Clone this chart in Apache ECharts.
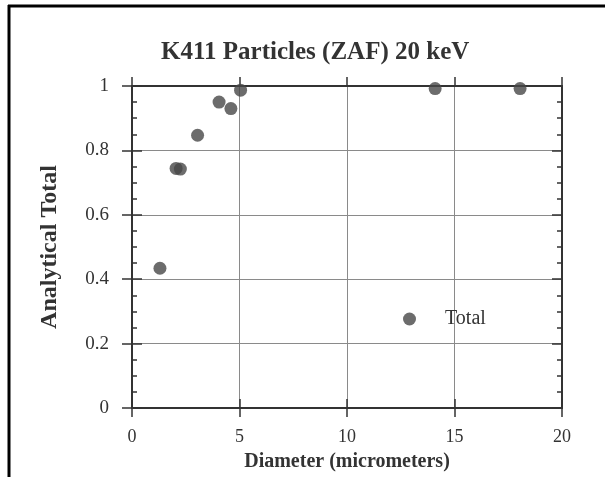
<!DOCTYPE html>
<html><head><meta charset="utf-8">
<script src="https://cdn.jsdelivr.net/npm/echarts@6/dist/echarts.min.js"></script>
<style>html,body{margin:0;padding:0;background:#fff}#c{width:605px;height:477px}</style>
</head><body><div id="c"></div>
<script>
const titleText = 'K411 Particles (ZAF) 20 keV';
const xName = 'Diameter (micrometers)';
const yName = 'Analytical Total';
const seriesName = 'Total';
const diameter = [1.3, 2.05, 2.25, 3.05, 4.05, 4.6, 5.05, 14.1, 18.05];
const total = [0.434, 0.744, 0.742, 0.847, 0.95, 0.93, 0.987, 0.992, 0.992];
const xMin = 0, xMax = 20, xStep = 5;
const yMin = 0, yMax = 1, yStep = 0.2;

const serif = 'Liberation Serif';
const axisCol = '#333';
const gridCol = '#8a8a8a';
const chart = echarts.init(document.getElementById('c'));

function yAx(pos, inside, labels, minor) {
  return {
    type: 'value', position: pos, min: yMin, max: yMax, interval: yStep,
    name: (pos === 'left' && labels) ? yName : '',
    nameLocation: 'middle', nameGap: 70,
    nameTextStyle: {fontFamily: serif, fontWeight: 'bold', fontSize: 24, color: '#333'},
    axisLine: {show: true, lineStyle: {color: axisCol, width: 2}},
    axisTick: {show: true, inside: inside, length: 10, lineStyle: {color: axisCol, width: 1.5}},
    minorTick: {show: minor, splitNumber: 4, length: 5, lineStyle: {color: axisCol, width: 1.5}},
    axisLabel: {show: labels, fontFamily: serif, fontSize: 19, color: '#333', margin: 23,
      formatter: v => String(Math.round(v * 10) / 10)},
    splitLine: {show: labels, lineStyle: {color: gridCol, width: 1}}
  };
}
function xAx(pos, inside, labels) {
  return {
    type: 'value', position: pos, min: xMin, max: xMax, interval: xStep,
    name: labels ? xName : '', nameLocation: 'middle', nameGap: 44,
    nameTextStyle: {fontFamily: serif, fontWeight: 'bold', fontSize: 20, color: '#333'},
    axisLine: {show: true, onZero: false, lineStyle: {color: axisCol, width: 2}},
    axisTick: {show: true, inside: inside, length: 9, lineStyle: {color: axisCol, width: 1.5}},
    axisLabel: {show: labels, fontFamily: serif, fontSize: 18, color: '#333', margin: 20},
    splitLine: {show: labels, lineStyle: {color: gridCol, width: 1}}
  };
}

chart.setOption({
  backgroundColor: '#fff',
  animation: false,
  title: {text: titleText, left: 156, top: 35,
    textStyle: {fontFamily: serif, fontWeight: 'bold', fontSize: 25, color: '#333'}},
  grid: {left: 132, right: 43, top: 86, bottom: 69},
  legend: {show: true, left: 398, top: 304, itemWidth: 13, itemHeight: 13, icon: 'circle',
    data: [seriesName],
    textStyle: {fontFamily: serif, fontSize: 20, color: '#333', padding: [0, 0, 0, 24]}},
  xAxis: [xAx('bottom', false, true), xAx('bottom', true, false), xAx('top', false, false)],
  yAxis: [yAx('left', false, true, false), yAx('left', true, false, true),
          yAx('right', false, false, false), yAx('right', true, false, true)],
  series: [{
    name: seriesName, type: 'scatter', symbol: 'circle', symbolSize: 13,
    itemStyle: {color: '#474747'},
    data: diameter.map((d, i) => [d, total[i]])
  }],
  graphic: [
    {type: 'line', shape: {x1: 8, y1: 6, x2: 605, y2: 6}, style: {stroke: '#000', lineWidth: 3}},
    {type: 'line', shape: {x1: 9, y1: 5, x2: 9, y2: 477}, style: {stroke: '#000', lineWidth: 3}}
  ]
});
</script></body></html>
